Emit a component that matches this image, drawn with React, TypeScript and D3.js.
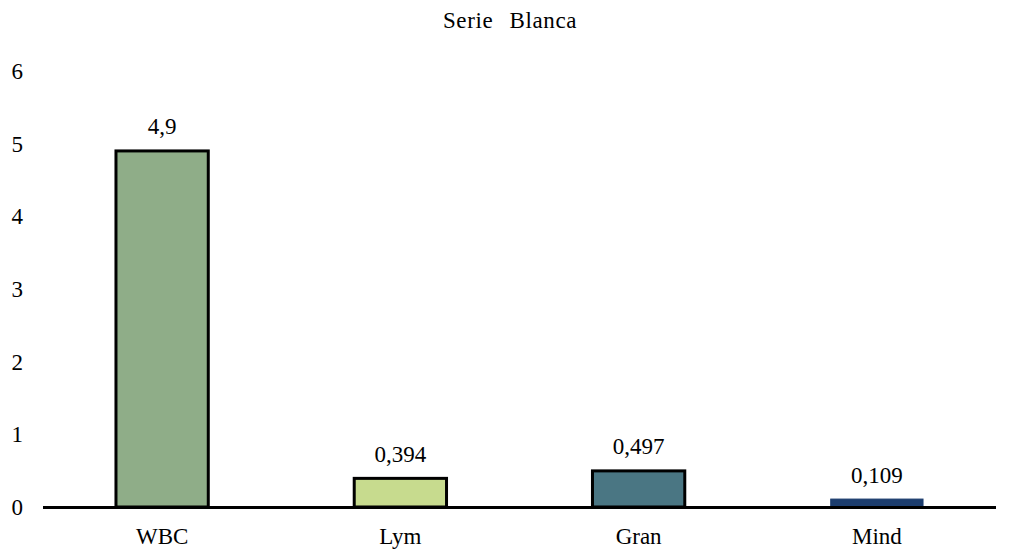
import React from "react";
import * as d3 from "d3";

const categories = ["WBC", "Lym", "Gran", "Mind"];
const values = [4.9, 0.394, 0.497, 0.109];
const valueLabels = ["4,9", "0,394", "0,497", "0,109"];
const fills = ["#8FAD88", "#C7DB8E", "#4A7683", "#1C3D6E"];
const outlines = ["#000000", "#000000", "#000000", "#1C3D6E"];
const yTicks = [0, 1, 2, 3, 4, 5, 6];
const title = "Serie Blanca";

const W = 1010;
const H = 552;
const textStyle: React.CSSProperties = {
  fontFamily: '"Liberation Serif", serif',
  fontSize: "23px",
};

export default function App() {
  const x = d3
    .scaleBand<string>()
    .domain(categories)
    .range([43, 996])
    .paddingInner(0.6)
    .paddingOuter(0.3);
  const y = d3.scaleLinear().domain([0, 6]).range([507, 71]);
  const sw = 3;

  return (
    <svg
      width={W}
      height={H}
      style={{ position: "absolute", left: 0, top: 0, background: "#fff" }}
    >
      <text
        x={510}
        y={28}
        textAnchor="middle"
        style={{ ...textStyle, letterSpacing: "0.6px", wordSpacing: "10px" }}
        fill="#000"
      >
        {title}
      </text>

      {yTicks.map((t) => (
        <text
          key={t}
          x={23}
          y={y(t)}
          dy="0.35em"
          textAnchor="end"
          style={textStyle}
          fill="#000"
        >
          {t}
        </text>
      ))}

      {categories.map((c, i) => {
        const bx = x(c)!;
        const bw = x.bandwidth();
        const top = y(values[i]);
        return (
          <g key={c}>
            <rect
              x={bx + sw / 2}
              y={top}
              width={bw - sw}
              height={y(0) - top}
              fill={fills[i]}
              stroke={outlines[i]}
              strokeWidth={i === 3 ? 1 : sw}
            />
            <text
              x={bx + bw / 2}
              y={top - 16.5}
              textAnchor="middle"
              style={textStyle}
              fill="#000"
            >
              {valueLabels[i]}
            </text>
            <text
              x={bx + bw / 2}
              y={544}
              textAnchor="middle"
              style={textStyle}
              fill="#000"
            >
              {c}
            </text>
          </g>
        );
      })}

      <line x1={43} x2={996} y1={y(0) + 0.5} y2={y(0) + 0.5} stroke="#000" strokeWidth={3} />
    </svg>
  );
}
